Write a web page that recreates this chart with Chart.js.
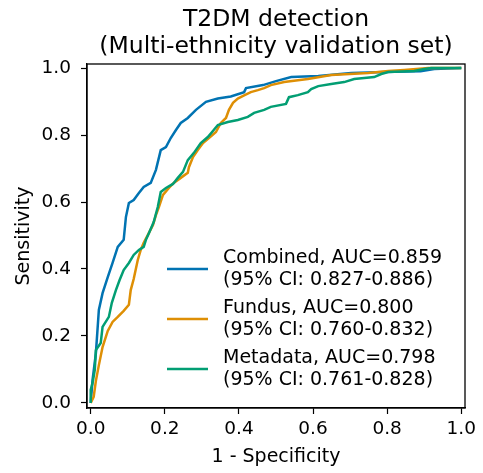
<!DOCTYPE html>
<html>
<head>
<meta charset="utf-8">
<script src="https://cdn.jsdelivr.net/npm/chart.js@4.4.1/dist/chart.umd.min.js"></script>
<style>
  html, body { margin: 0; padding: 0; background: #fff; }
  #wrap { width: 483px; height: 473px; }
</style>
</head>
<body>
<div id="wrap"><canvas id="rocChart"></canvas></div>
<script>
// ROC points (false positive rate / true positive rate) per model
const combinedFpr = [0, 0.005, 0.014, 0.022, 0.032, 0.046, 0.059, 0.073, 0.089, 0.095, 0.103, 0.116, 0.130, 0.143, 0.162, 0.176, 0.189, 0.203, 0.216, 0.230, 0.243, 0.262, 0.284, 0.311, 0.343, 0.378, 0.414, 0.419, 0.465, 0.500, 0.541, 0.614, 0.703, 0.819, 0.890, 0.927, 1.0];
const combinedTpr = [0, 0.069, 0.149, 0.278, 0.328, 0.376, 0.418, 0.466, 0.487, 0.555, 0.597, 0.606, 0.627, 0.645, 0.657, 0.696, 0.755, 0.764, 0.791, 0.815, 0.836, 0.851, 0.875, 0.899, 0.909, 0.915, 0.928, 0.940, 0.949, 0.961, 0.973, 0.976, 0.985, 0.989, 0.990, 0.997, 1.0];

const fundusFpr = [0, 0.008, 0.014, 0.022, 0.032, 0.046, 0.059, 0.073, 0.089, 0.103, 0.108, 0.116, 0.127, 0.135, 0.143, 0.154, 0.168, 0.176, 0.184, 0.195, 0.211, 0.224, 0.243, 0.262, 0.265, 0.276, 0.289, 0.303, 0.319, 0.338, 0.351, 0.365, 0.373, 0.384, 0.397, 0.414, 0.432, 0.451, 0.468, 0.486, 0.522, 0.586, 0.649, 0.749, 0.803, 0.846, 0.911, 1.0];
const fundusTpr = [0, 0.018, 0.066, 0.113, 0.167, 0.215, 0.242, 0.257, 0.275, 0.293, 0.337, 0.370, 0.427, 0.457, 0.478, 0.501, 0.531, 0.561, 0.585, 0.621, 0.642, 0.657, 0.672, 0.687, 0.704, 0.734, 0.755, 0.776, 0.791, 0.809, 0.836, 0.851, 0.875, 0.896, 0.909, 0.918, 0.928, 0.934, 0.940, 0.949, 0.958, 0.967, 0.979, 0.985, 0.991, 0.994, 1.0, 1.0];

const metadataFpr = [0, 0, 0.005, 0.011, 0.014, 0.027, 0.032, 0.049, 0.057, 0.068, 0.078, 0.089, 0.103, 0.116, 0.130, 0.143, 0.149, 0.157, 0.170, 0.181, 0.189, 0.203, 0.222, 0.235, 0.249, 0.262, 0.278, 0.297, 0.316, 0.332, 0.343, 0.370, 0.397, 0.424, 0.441, 0.468, 0.486, 0.527, 0.535, 0.559, 0.586, 0.595, 0.614, 0.649, 0.684, 0.711, 0.765, 0.784, 0.803, 0.873, 0.900, 0.919, 1.0];
const metadataTpr = [0, 0.039, 0.060, 0.099, 0.158, 0.179, 0.227, 0.257, 0.299, 0.337, 0.367, 0.397, 0.418, 0.442, 0.457, 0.466, 0.487, 0.507, 0.540, 0.585, 0.630, 0.642, 0.654, 0.672, 0.690, 0.725, 0.746, 0.776, 0.794, 0.815, 0.830, 0.839, 0.845, 0.854, 0.866, 0.875, 0.884, 0.893, 0.913, 0.919, 0.928, 0.937, 0.946, 0.952, 0.958, 0.967, 0.973, 0.982, 0.988, 0.991, 0.997, 1.0, 1.0];

const seriesNames = ["Combined, AUC=0.859", "Fundus, AUC=0.800", "Metadata, AUC=0.798"];
const seriesCI = ["(95% CI: 0.827-0.886)", "(95% CI: 0.760-0.832)", "(95% CI: 0.761-0.828)"];
const seriesColors = ["#0173b2", "#de8f05", "#029e73"];
const tickValues = [0, 0.2, 0.4, 0.6, 0.8, 1.0];
const titleLines = ["T2DM detection", "(Multi-ethnicity validation set)"];

const FONT = "'DejaVu Sans', sans-serif";

function toPoints(xs, ys) {
    return xs.map((x, i) => ({ x: x, y: ys[i] }));
}

// box around the plot, title centred over the axes, two-line legend entries
const framePlugin = {
    id: "frame",
    afterDraw(chart) {
        const ctx = chart.ctx;
        const a = chart.chartArea;
        ctx.save();
        ctx.strokeStyle = "#000";
        ctx.lineWidth = 1.3;
        ctx.strokeRect(a.left, a.top, a.right - a.left, a.bottom - a.top);

        ctx.fillStyle = "#000";
        ctx.font = "23.5px " + FONT;
        ctx.textAlign = "center";
        ctx.textBaseline = "alphabetic";
        const cx = (a.left + a.right) / 2;
        ctx.fillText(titleLines[0], cx, a.top - 38);
        ctx.fillText(titleLines[1], cx, a.top - 11.5);

        ctx.font = "19px " + FONT;
        ctx.textAlign = "left";
        ctx.textBaseline = "middle";
        const x0 = a.left + 80;
        let y = a.top + 205;
        for (let i = 0; i < seriesNames.length; i++) {
            ctx.strokeStyle = seriesColors[i];
            ctx.lineWidth = 2.5;
            ctx.beginPath();
            ctx.moveTo(x0, y);
            ctx.lineTo(x0 + 41, y);
            ctx.stroke();
            ctx.fillText(seriesNames[i], x0 + 56, y - 11);
            ctx.fillText(seriesCI[i], x0 + 56, y + 11);
            y += 50;
        }
        ctx.restore();
    }
};

const ctx = document.getElementById("rocChart").getContext("2d");
const rocChart = new Chart(ctx, {
    type: "scatter",
    data: {
        datasets: [
            { label: seriesNames[0], data: toPoints(combinedFpr, combinedTpr), borderColor: seriesColors[0], order: 3 },
            { label: seriesNames[1], data: toPoints(fundusFpr, fundusTpr), borderColor: seriesColors[1], order: 2 },
            { label: seriesNames[2], data: toPoints(metadataFpr, metadataTpr), borderColor: seriesColors[2], order: 1 }
        ].map(d => Object.assign(d, { showLine: true, borderWidth: 2.5, pointRadius: 0, tension: 0, fill: false }))
    },
    options: {
        responsive: true,
        maintainAspectRatio: false,
        animation: false,
        layout: { padding: { left: 0, right: 18, top: 64, bottom: 0 } },
        plugins: {
            legend: { display: false },
            tooltip: { enabled: false },
            title: { display: false }
        },
        scales: {
            x: {
                type: "linear",
                min: -0.01,
                max: 1.01,
                afterBuildTicks: s => { s.ticks = tickValues.map(v => ({ value: v })); },
                afterFit: s => { s.height = 65; },
                ticks: { color: "#000", font: { family: FONT, size: 18.5 }, padding: 4, callback: v => v.toFixed(1) },
                grid: { drawOnChartArea: false, drawTicks: true, tickLength: 6, color: "#000", tickWidth: 1.2 },
                border: { display: true, color: "#000", width: 1.3 },
                title: { display: true, text: "1 - Specificity", color: "#000", font: { family: FONT, size: 19 }, padding: { top: 2, bottom: 5 } }
            },
            y: {
                type: "linear",
                min: -0.015,
                max: 1.012,
                afterBuildTicks: s => { s.ticks = tickValues.map(v => ({ value: v })); },
                afterFit: s => { s.width = 87; },
                ticks: { color: "#000", font: { family: FONT, size: 18.5 }, padding: 10, callback: v => v.toFixed(1) },
                grid: { drawOnChartArea: false, drawTicks: true, tickLength: 6, color: "#000", tickWidth: 1.2 },
                border: { display: true, color: "#000", width: 1.3 },
                title: { display: true, text: "Sensitivity", color: "#000", font: { family: FONT, size: 19 }, padding: { top: 13, bottom: 4 } }
            }
        }
    },
    plugins: [framePlugin]
});
</script>
</body>
</html>
